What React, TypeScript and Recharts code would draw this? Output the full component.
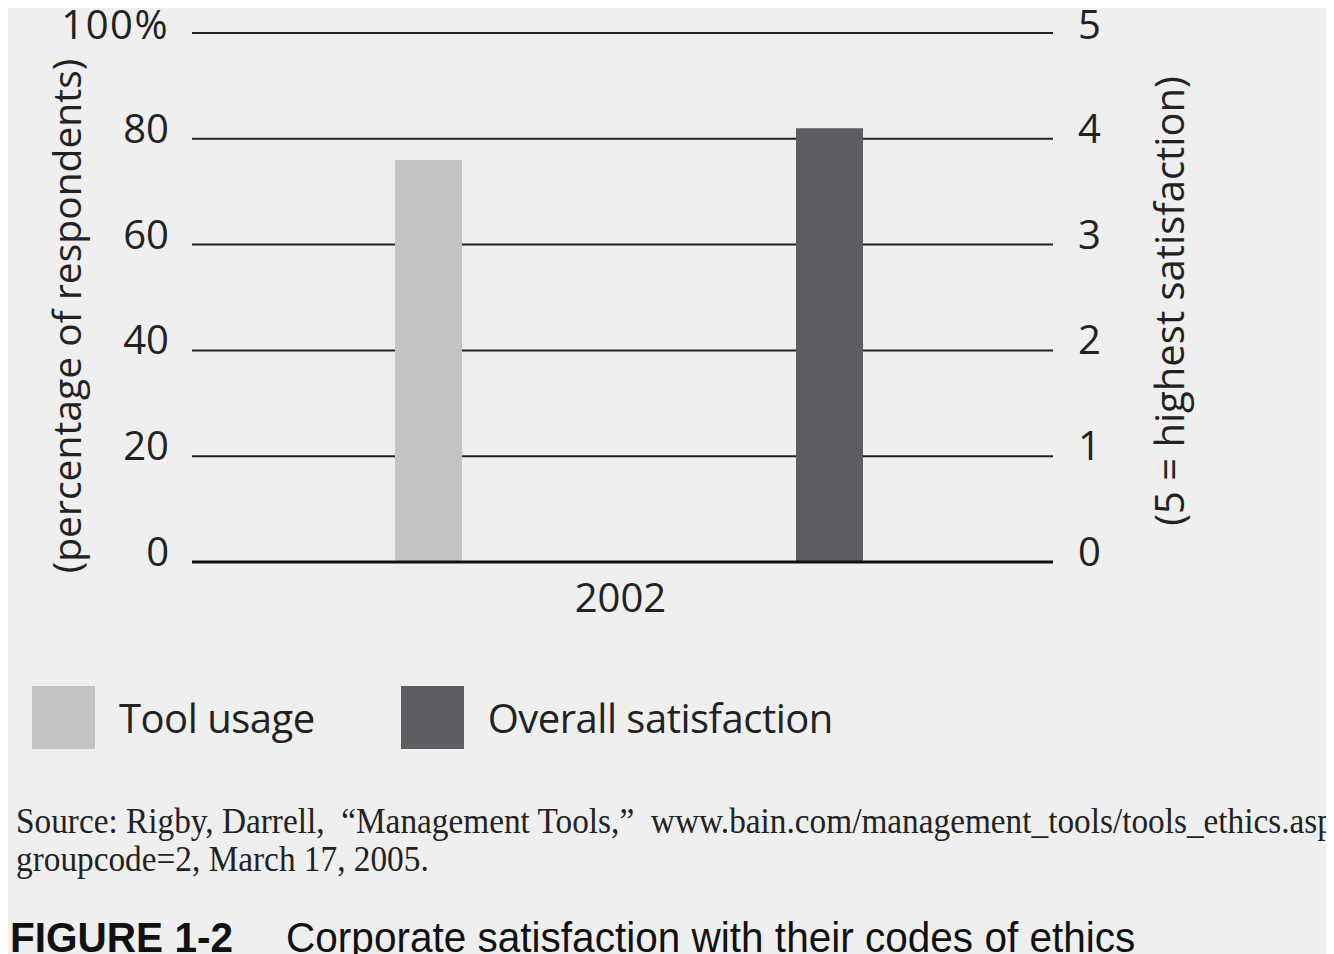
import { BarChart, Bar, XAxis, YAxis, CartesianGrid, Label } from 'recharts'

const categories = ['2002']
const toolUsage = [76]
const overallSatisfaction = [4.1]
const leftTicks = [0, 20, 40, 60, 80, 100]
const rightTicks = [0, 1, 2, 3, 4, 5]

const seriesNames = ['Tool usage', 'Overall satisfaction']
const seriesColors = ['#c2c3c5', '#5d5e62']

const BG = '#efefef'
const AXIS_FONT = '"Open Sans", sans-serif'

const chartData = categories.map((year, i) => ({
    year,
    usage: toolUsage[i],
    satisfaction: overallSatisfaction[i],
}))

function LeftTick(props: any) {
    const { x, y, payload } = props
    const isTop = payload.value === 100
    return (
        <text
            x={x}
            y={y}
            dy={isTop ? 6 : 4}
            textAnchor="end"
            fontSize={40}
            fill="#222"
            fontFamily={AXIS_FONT}
            letterSpacing={isTop ? 1.5 : 0}
        >
            {isTop ? '100%' : String(payload.value)}
        </text>
    )
}

function RightTick(props: any) {
    const { x, y, payload } = props
    return (
        <text x={x} y={y} dy={payload.value === 5 ? 6 : 4} textAnchor="start" fontSize={40} fill="#222" fontFamily={AXIS_FONT}>
            {payload.value}
        </text>
    )
}

function SideLabel({ cx, cy, text, size }: { cx: number; cy: number; text: string; size: number }) {
    return (
        <text
            x={cx}
            y={cy}
            textAnchor="middle"
            dominantBaseline="central"
            transform={`rotate(-90 ${cx} ${cy})`}
            fontSize={size}
            fill="#222"
            fontFamily={AXIS_FONT}
        >
            {text}
        </text>
    )
}

export default function App() {
    return (
        <div style={{ position: 'relative', width: 1326, height: 946, background: BG }}>
            <div style={{ position: 'absolute', left: 0, top: -8 }}>
                <BarChart
                    width={1326}
                    height={648}
                    data={chartData}
                    margin={{ top: 33, right: 0, bottom: 26, left: 0 }}
                    barGap={334}
                    barSize={67}
                >
                    <CartesianGrid horizontal vertical={false} stroke="#222" strokeWidth={2} yAxisId="left" />
                    <XAxis
                        dataKey="year"
                        height={60}
                        padding={{ left: 12, right: 0 }}
                        tickLine={false}
                        tickSize={0}
                        tickMargin={22}
                        axisLine={{ stroke: '#111', strokeWidth: 3 }}
                        tick={{ fontSize: 40, fill: '#222', fontFamily: AXIS_FONT, dx: -8 }}
                    />
                    <YAxis
                        yAxisId="left"
                        orientation="left"
                        width={184}
                        domain={[0, 100]}
                        ticks={leftTicks}
                        interval={0}
                        axisLine={false}
                        tickLine={false}
                        tickSize={0}
                        tickMargin={23}
                        tick={<LeftTick />}
                    >
                        <Label content={() => <SideLabel cx={57} cy={316} size={39} text="(percentage of respondents)" />} />
                    </YAxis>
                    <YAxis
                        yAxisId="right"
                        orientation="right"
                        width={281}
                        domain={[0, 5]}
                        ticks={rightTicks}
                        interval={0}
                        axisLine={false}
                        tickLine={false}
                        tickSize={0}
                        tickMargin={25}
                        tick={<RightTick />}
                    >
                        <Label content={() => <SideLabel cx={1160} cy={301} size={40} text="(5 = highest satisfaction)" />} />
                    </YAxis>
                    <Bar yAxisId="left" dataKey="usage" fill={seriesColors[0]} isAnimationActive={false} />
                    <Bar yAxisId="right" dataKey="satisfaction" fill={seriesColors[1]} isAnimationActive={false} />
                </BarChart>
            </div>

            <div style={{ position: 'absolute', left: 24, top: 678, display: 'flex', alignItems: 'center' }}>
                {seriesNames.map((name, i) => (
                    <div key={name} style={{ display: 'flex', alignItems: 'center', marginRight: i === 0 ? 86 : 0 }}>
                        <div style={{ width: 63, height: 63, background: seriesColors[i] }} />
                        <span style={{ marginLeft: 24, fontSize: 40, fontFamily: AXIS_FONT, color: '#222', letterSpacing: -0.5 }}>
                            {name}
                        </span>
                    </div>
                ))}
            </div>

            <div
                style={{
                    position: 'absolute',
                    left: 8,
                    top: 794,
                    fontFamily: '"Liberation Serif", serif',
                    fontSize: 36,
                    lineHeight: '38px',
                    color: '#222',
                    whiteSpace: 'nowrap',
                    transform: 'scaleX(0.925)',
                    transformOrigin: 'left top',
                }}
            >
                <div>Source: Rigby, Darrell,&nbsp; “Management Tools,”&nbsp; www.bain.com/management_tools/tools_ethics.asp</div>
                <div>groupcode=2, March 17, 2005.</div>
            </div>

            <div
                style={{
                    position: 'absolute',
                    left: 2,
                    top: 906,
                    fontFamily: '"Liberation Sans", sans-serif',
                    fontSize: 42,
                    color: '#111',
                    whiteSpace: 'nowrap',
                    transform: 'scaleX(0.965)',
                    transformOrigin: 'left top',
                }}
            >
                <span style={{ fontWeight: 'bold' }}>FIGURE 1-2</span>
                <span style={{ marginLeft: 55 }}>Corporate satisfaction with their codes of ethics</span>
            </div>
        </div>
    )
}
